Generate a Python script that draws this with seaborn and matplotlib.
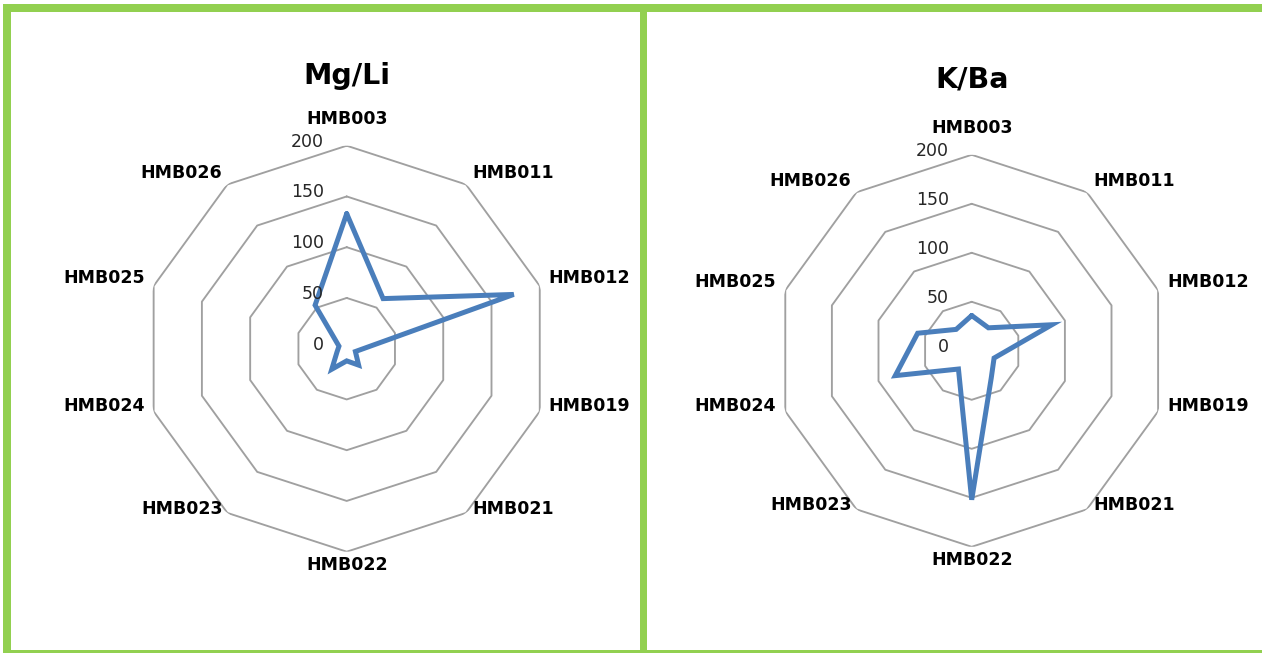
import numpy as np
import pandas as pd
import matplotlib
matplotlib.use("Agg")
import matplotlib.pyplot as plt
from matplotlib.patches import Rectangle
import seaborn as sns

# Sample sites around each radar
sites = ["HMB003", "HMB011", "HMB012", "HMB019", "HMB021",
         "HMB022", "HMB023", "HMB024", "HMB025", "HMB026"]

# Element ratios per site
mg_li = [133, 61, 173, 9, 20, 12, 25, 10, 8, 53]
k_ba = [36, 29, 86, 24, 34, 152, 23, 82, 58, 27]

ring_values = [50, 100, 150, 200]
tick_values = [0, 50, 100, 150, 200]
panel_titles = ["Mg/Li", "K/Ba"]

W, H = 1262, 653
sns.set_theme(style="white")
plt.rcParams["font.family"] = ["DejaVu Sans"]

fig = plt.figure(figsize=(W / 100, H / 100), dpi=100)
fig.patch.set_facecolor("white")

LINE_BLUE = "#4A7EBB"
RING_GRAY = "#A0A0A0"
GREEN = "#92D050"

# label placement around the outer ring (pixel offsets, alignment)
label_layout = [
    (0, 27, "center"), (6, 11, "left"), (9, 8, "left"), (9, 5, "left"),
    (6, 4, "left"), (0, -13, "center"), (-5, 4, "right"), (-9, 5, "right"),
    (-9, 8, "right"), (-5, 11, "right"),
]


def px_box(cx, cy, r):
    return [(cx - r) / W, (H - cy - r) / H, 2 * r / W, 2 * r / H]


def radar(ax, values, title, title_xy):
    n = len(sites)
    theta = np.linspace(0, 2 * np.pi, n, endpoint=False)
    closed_t = np.append(theta, theta[0])

    ax.set_theta_offset(np.pi / 2)
    ax.set_theta_direction(-1)
    ax.set_ylim(0, 200)
    ax.grid(False)
    ax.spines["polar"].set_visible(False)
    ax.set_xticks([])
    ax.set_yticks([])
    ax.set_facecolor("none")

    for rv in ring_values:
        ring = pd.DataFrame({"t": closed_t, "r": np.full(n + 1, rv)})
        sns.lineplot(data=ring, x="t", y="r", ax=ax, sort=False,
                     estimator=None, color=RING_GRAY, linewidth=1.35)

    df = pd.DataFrame({"t": closed_t, "r": np.append(values, values[0])})
    sns.lineplot(data=df, x="t", y="r", ax=ax, sort=False, estimator=None,
                 color=LINE_BLUE, linewidth=3.6)
    ax.lines[-1].set_solid_joinstyle("miter")
    ax.set_xlabel("")
    ax.set_ylabel("")

    for tv in tick_values:
        ax.annotate(str(tv), xy=(0, tv), xytext=(-23, 4),
                    textcoords="offset pixels", ha="right", va="center",
                    fontsize=12.5, color="#262626")

    for name, t, (dx, dy, ha) in zip(sites, theta, label_layout):
        ax.annotate(name, xy=(t, 200), xytext=(dx, dy),
                    textcoords="offset pixels", ha=ha, va="center",
                    fontsize=12.5, fontweight="bold", color="black",
                    annotation_clip=False)

    fig.text(title_xy[0] / W, 1 - title_xy[1] / H, title, ha="center",
             va="baseline", fontsize=20.5, fontweight="bold", color="black")


ax1 = fig.add_axes(px_box(346.7, 348.7, 203), projection="polar")
radar(ax1, mg_li, panel_titles[0], (347, 84))

ax2 = fig.add_axes(px_box(971.7, 350.8, 196), projection="polar")
radar(ax2, k_ba, panel_titles[1], (972, 87))

# green frame bands (pixel rectangles: x0, y0, x1, y1 from top-left)
bands = [(3, 4, 1262, 12), (3, 4, 11, 653), (640, 4, 647, 653), (3, 650, 1262, 653)]
for x0, y0, x1, y1 in bands:
    fig.add_artist(Rectangle((x0 / W, 1 - y1 / H), (x1 - x0) / W, (y1 - y0) / H,
                             transform=fig.transFigure, facecolor=GREEN,
                             edgecolor="none", zorder=10))

fig.savefig("out.png", dpi=100)
